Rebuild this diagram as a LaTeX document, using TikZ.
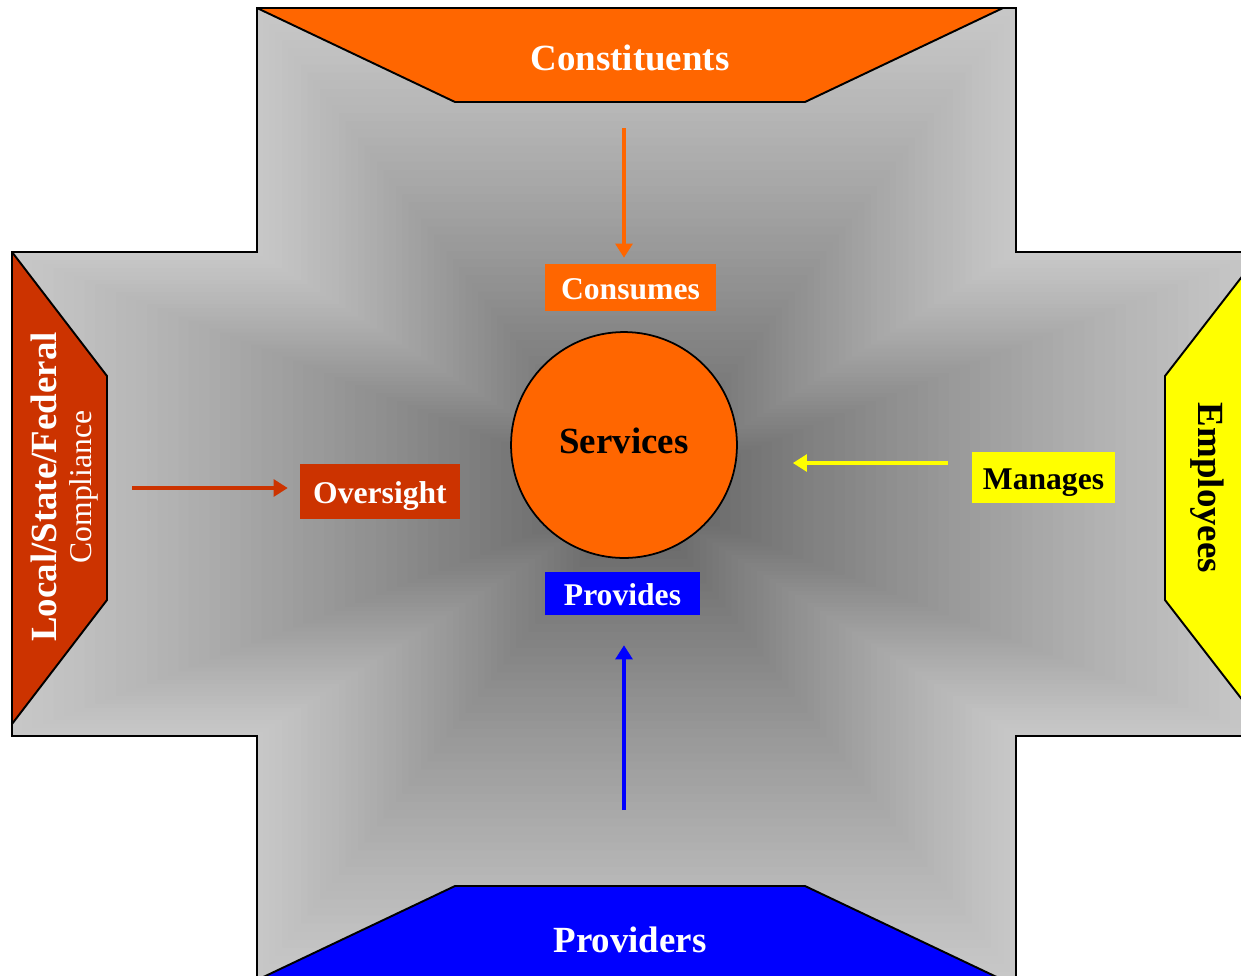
\documentclass[tikz,border=0pt]{standalone}
\usepackage{fontspec}
\setmainfont{Liberation Serif}
\usetikzlibrary{arrows.meta}

\definecolor{svcorange}{HTML}{FF6600}
\definecolor{lawred}{HTML}{CC3300}
\definecolor{empyellow}{HTML}{FFFF00}
\definecolor{provblue}{HTML}{0000FF}

\newcommand{\crossoutline}{(257,8) -- (1016,8) -- (1016,252) -- (1261,252) -- (1261,736) -- (1016,736) -- (1016,980) -- (257,980) -- (257,736) -- (12,736) -- (12,252) -- (257,252) -- cycle}

\tikzset{
  bigtext/.style={font=\fontsize{21}{24}\selectfont\bfseries},
  smalltext/.style={font=\fontsize{18}{21}\selectfont\bfseries, inner sep=0pt,
                    text height=14pt, text depth=0pt},
  tab/.style={draw=black, line width=1.1pt, line join=round},
  feed/.style={line width=2.6pt, -{Triangle[length=8pt,width=9.5pt]}}
}

\begin{document}
\begin{tikzpicture}[x=0.02cm, y=-0.02cm]
  \useasboundingbox (0,0) rectangle (1241,975);

  \foreach \i in {0,...,59} {
    \pgfmathsetmacro\s{1-\i/60}
    \pgfmathsetmacro\p{22+41*(\i/60)^1.15}
    \fill[black!\p, scale around={\s:(636.5,494)}] \crossoutline;
  }
  \draw[line width=1.1pt] \crossoutline;

  \filldraw[tab, fill=svcorange] (257,8) -- (1003,8) -- (805,102) -- (455,102) -- cycle;
  \filldraw[tab, fill=provblue] (455,886) -- (805,886) -- (1003,980) -- (257,980) -- cycle;
  \filldraw[tab, fill=lawred] (12,252) -- (107,376) -- (107,600) -- (12,724) -- cycle;
  \filldraw[tab, fill=empyellow] (1261,252) -- (1165,376) -- (1165,600) -- (1261,724) -- cycle;

  \node[bigtext, text=white] (constituents) at (630,58) {Constituents};
  \node[bigtext, text=white] (providers) at (630,940) {Providers};
  \node[bigtext, text=white, rotate=90] (law) at (44,487) {Local/State/Federal};
  \node[font=\fontsize{18}{21}\selectfont, text=white, rotate=90] (compliance) at (84,487) {Compliance};
  \node[bigtext, text=black, rotate=-90] (employees) at (1207,488) {Employees};

  \node[circle, draw=black, line width=1pt, fill=svcorange, minimum size=128.6pt,
        bigtext, text depth=4.5pt] (svc) at (624,445) {Services};

  \node[smalltext, fill=svcorange, text=white, minimum width=97.3pt, minimum height=26.7pt] (consumes) at (630.5,287.5) {Consumes};
  \node[smalltext, fill=lawred, text=white, minimum width=91pt, minimum height=31.3pt] (oversight) at (380,491.5) {Oversight};
  \node[smalltext, fill=empyellow, text=black, minimum width=81.4pt, minimum height=29pt] (manages) at (1043.5,477.5) {Manages};
  \node[smalltext, fill=provblue, text=white, minimum width=88.2pt, minimum height=24.5pt] (provides) at (622.5,593.5) {Provides};

  \coordinate (consTail) at (624,128);
  \coordinate (lawTail) at (132,488);
  \coordinate (empTail) at (948,463);
  \coordinate (provTail) at (624,810);

  \draw[feed, svcorange, shorten >=3.4pt] (consTail) -- (consTail |- consumes.north);
  \draw[feed, lawred, shorten >=6.8pt] (lawTail) -- (lawTail -| oversight.west);
  \draw[feed, empyellow, shorten >=31.3pt] (empTail) -- (empTail -| svc.east);
  \draw[feed, provblue, shorten >=17pt] (provTail) -- (provTail |- provides.south);
\end{tikzpicture}
\end{document}
